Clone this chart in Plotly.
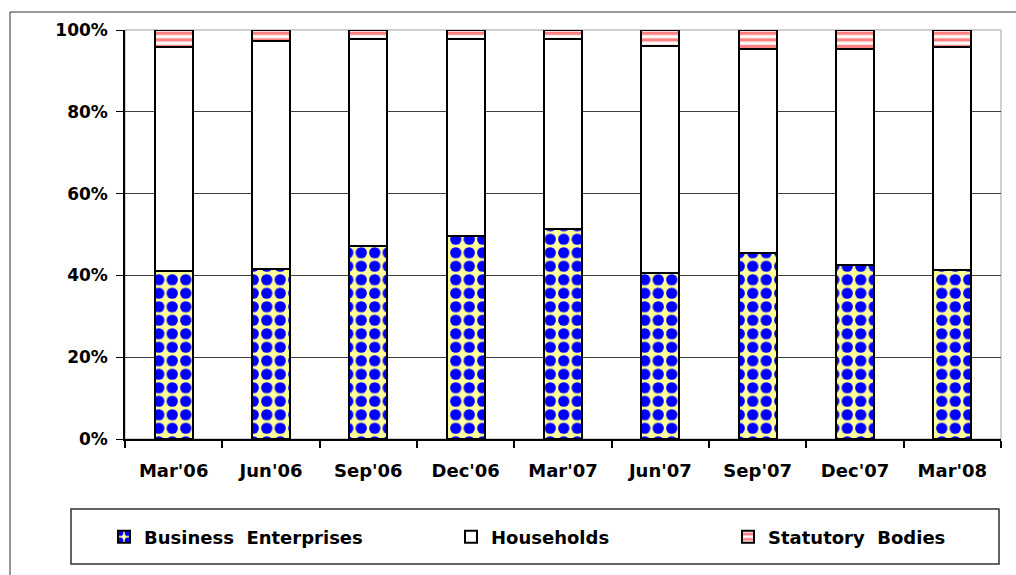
import plotly.graph_objects as go

# Quarterly share of holdings by sector (per cent of total)
quarters = ["Mar'06", "Jun'06", "Sep'06", "Dec'06", "Mar'07",
            "Jun'07", "Sep'07", "Dec'07", "Mar'08"]
business = [41.1, 41.6, 47.2, 49.6, 51.3, 40.6, 45.5, 42.5, 41.3]
households = [54.8, 55.8, 50.6, 48.2, 46.5, 55.6, 49.9, 52.9, 54.5]
statutory = [4.1, 2.6, 2.2, 2.2, 2.2, 3.8, 4.6, 4.6, 4.2]

y_tick_values = [0, 20, 40, 60, 80, 100]
y_tick_labels = ["0%", "20%", "40%", "60%", "80%", "100%"]

series_names = ["Business\u00a0 Enterprises", "Households", "Statutory\u00a0 Bodies"]

# Canvas and plot-area geometry (pixels)
W, H = 1016, 575
L, R, T, B = 125, 15, 30, 136
PW, PH = W - L - R, H - T - B


def paper_x(px):
    return (px - L) / PW


def paper_y(py):
    return (H - B - py) / PH


FONT = "DejaVu Sans"
outline = dict(color="black", width=2)

fig = go.Figure()
fig.add_bar(
    x=quarters, y=business, name=series_names[0], width=0.39, legend="legend",
    marker=dict(color="#FFFF99", line=outline,
                pattern=dict(shape=".", fgcolor="#0000FF", bgcolor="#FFFF99",
                             size=13.5, solidity=0.55, fillmode="replace")),
)
fig.add_bar(
    x=quarters, y=households, name=series_names[1], width=0.39, legend="legend2",
    marker=dict(color="white", line=outline),
)
fig.add_bar(
    x=quarters, y=statutory, name=series_names[2], width=0.39, legend="legend3",
    marker=dict(color="white", line=outline,
                pattern=dict(shape="-", fgcolor="#FF8080", bgcolor="white",
                             size=6.6, solidity=0.5, fillmode="replace")),
)

legend_font = dict(family=FONT, size=18, color="black", weight="bold")


def legend_at(px):
    return dict(x=paper_x(px), y=paper_y(537), xref="paper", yref="paper",
                xanchor="left", yanchor="middle", orientation="h",
                bgcolor="rgba(0,0,0,0)", borderwidth=0, font=legend_font,
                itemclick=False, itemdoubleclick=False)


fig.update_layout(
    width=W, height=H,
    margin=dict(l=L, r=R, t=T, b=B, pad=0),
    barmode="stack",
    paper_bgcolor="white", plot_bgcolor="white",
    font=dict(family=FONT, color="black"),
    legend=legend_at(104),
    legend2=legend_at(451),
    legend3=legend_at(728),
    xaxis=dict(
        type="category", range=[-0.5, len(quarters) - 0.5],
        showline=True, linecolor="black", linewidth=2,
        ticks="outside", tickson="boundaries", ticklen=7, tickwidth=2,
        tickcolor="black", ticklabelstandoff=14, showgrid=False,
        tickfont=dict(family=FONT, size=18, color="black", weight="bold"),
        fixedrange=True,
    ),
    yaxis=dict(
        range=[0, 100], tickvals=y_tick_values, ticktext=y_tick_labels,
        showline=True, linecolor="black", linewidth=1.5,
        ticks="outside", ticklen=7, tickwidth=1, tickcolor="black",
        ticklabelstandoff=5, showgrid=True, gridcolor="#404040", gridwidth=1,
        zeroline=False,
        tickfont=dict(family=FONT, size=17, color="black", weight="bold"),
        fixedrange=True,
    ),
    shapes=[
        # plot-area border
        dict(type="rect", xref="paper", yref="paper", x0=0, x1=1, y0=0, y1=1,
             line=dict(color="#A0A0A0", width=1), layer="between"),
        # outer chart frame
        dict(type="rect", xref="paper", yref="paper",
             x0=paper_x(10), x1=paper_x(1030), y0=paper_y(590), y1=paper_y(12),
             line=dict(color="#303030", width=1)),
        # legend frame
        dict(type="rect", xref="paper", yref="paper",
             x0=paper_x(71), x1=paper_x(999), y0=paper_y(564), y1=paper_y(509),
             line=dict(color="#303030", width=1.5)),
    ],
    showlegend=True,
)

fig.write_html("out.html", config={"displayModeBar": False})
